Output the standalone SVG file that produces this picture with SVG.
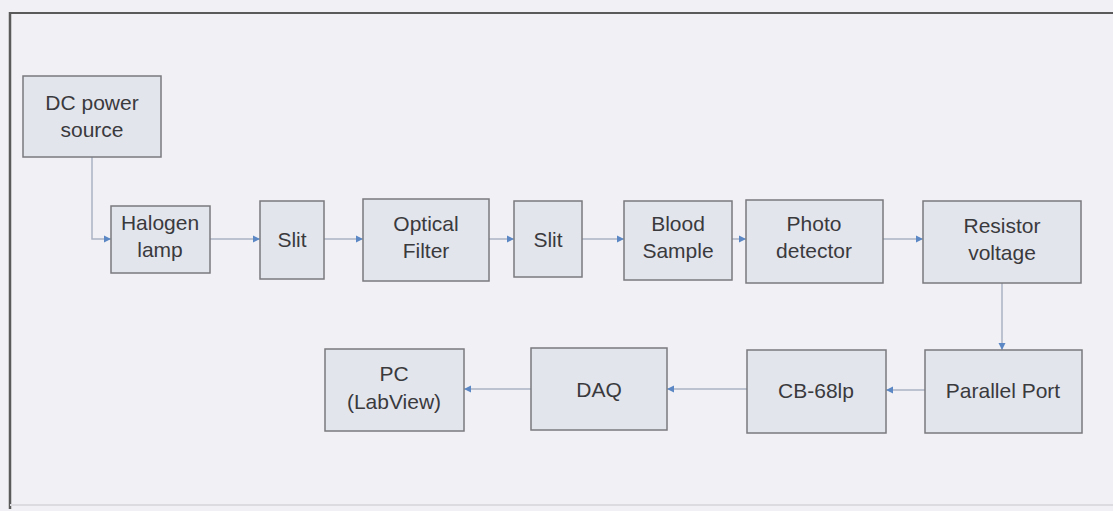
<svg xmlns="http://www.w3.org/2000/svg" width="1113" height="511" viewBox="0 0 1113 511">
  <defs>
    <marker id="ah" markerWidth="8" markerHeight="8" refX="7" refY="4" orient="auto" markerUnits="userSpaceOnUse">
      <path d="M0,0.5 L7,4 L0,7.5 Z" fill="#5b87c5"/>
    </marker>
    <style>
      .box { fill: #e3e5ed; stroke: #7a7a7e; stroke-width: 1.5; }
      .lbl { font-family: "Liberation Sans", Arial, sans-serif; font-size: 21px; fill: #3a3a3d; text-anchor: middle; }
      .con { fill: none; stroke: #aab3c3; stroke-width: 1.5; marker-end: url(#ah); }
    </style>
  </defs>
  <rect x="0" y="0" width="1113" height="511" fill="#f1f0f4"/>
  <g id="frame">
    <line x1="10" y1="13" x2="1113" y2="13" stroke="#5a5a5a" stroke-width="2"/>
    <line x1="10" y1="12" x2="10" y2="509" stroke="#5a5a5a" stroke-width="2.5"/>
    <line x1="10" y1="505" x2="1113" y2="505" stroke="#dcdbe0" stroke-width="2"/>
  </g>
  <g id="connectors">
    <path class="con" d="M92,157 V239 H111"/>
    <path class="con" d="M210,239 H260"/>
    <path class="con" d="M324,239 H363"/>
    <path class="con" d="M489,239 H514"/>
    <path class="con" d="M582,239 H624"/>
    <path class="con" d="M732,239 H746"/>
    <path class="con" d="M883,239 H923"/>
    <path class="con" d="M1002,283 V350"/>
    <path class="con" d="M925,390 H886"/>
    <path class="con" d="M747,389 H667"/>
    <path class="con" d="M531,389 H464"/>
  </g>
  <g id="dc-power-source">
    <rect class="box" x="23" y="76" width="138" height="81"/>
    <text class="lbl" x="92" y="110">DC power</text>
    <text class="lbl" x="92" y="137">source</text>
  </g>
  <g id="halogen-lamp">
    <rect class="box" x="111" y="206" width="99" height="67"/>
    <text class="lbl" x="160" y="230">Halogen</text>
    <text class="lbl" x="160" y="257">lamp</text>
  </g>
  <g id="slit-1">
    <rect class="box" x="260" y="201" width="64" height="78"/>
    <text class="lbl" x="292" y="247">Slit</text>
  </g>
  <g id="optical-filter">
    <rect class="box" x="363" y="199" width="126" height="82"/>
    <text class="lbl" x="426" y="231">Optical</text>
    <text class="lbl" x="426" y="258">Filter</text>
  </g>
  <g id="slit-2">
    <rect class="box" x="514" y="201" width="68" height="76"/>
    <text class="lbl" x="548" y="247">Slit</text>
  </g>
  <g id="blood-sample">
    <rect class="box" x="624" y="201" width="108" height="79"/>
    <text class="lbl" x="678" y="231">Blood</text>
    <text class="lbl" x="678" y="258">Sample</text>
  </g>
  <g id="photo-detector">
    <rect class="box" x="746" y="200" width="137" height="83"/>
    <text class="lbl" x="814" y="231">Photo</text>
    <text class="lbl" x="814" y="258">detector</text>
  </g>
  <g id="resistor-voltage">
    <rect class="box" x="923" y="201" width="158" height="82"/>
    <text class="lbl" x="1002" y="233">Resistor</text>
    <text class="lbl" x="1002" y="260">voltage</text>
  </g>
  <g id="parallel-port">
    <rect class="box" x="925" y="350" width="157" height="83"/>
    <text class="lbl" x="1003" y="398">Parallel Port</text>
  </g>
  <g id="cb-68lp">
    <rect class="box" x="747" y="350" width="139" height="83"/>
    <text class="lbl" x="816" y="398">CB-68lp</text>
  </g>
  <g id="daq">
    <rect class="box" x="531" y="348" width="136" height="82"/>
    <text class="lbl" x="599" y="397">DAQ</text>
  </g>
  <g id="pc-labview">
    <rect class="box" x="325" y="349" width="139" height="82"/>
    <text class="lbl" x="394" y="381">PC</text>
    <text class="lbl" x="394" y="409">(LabView)</text>
  </g>
</svg>
